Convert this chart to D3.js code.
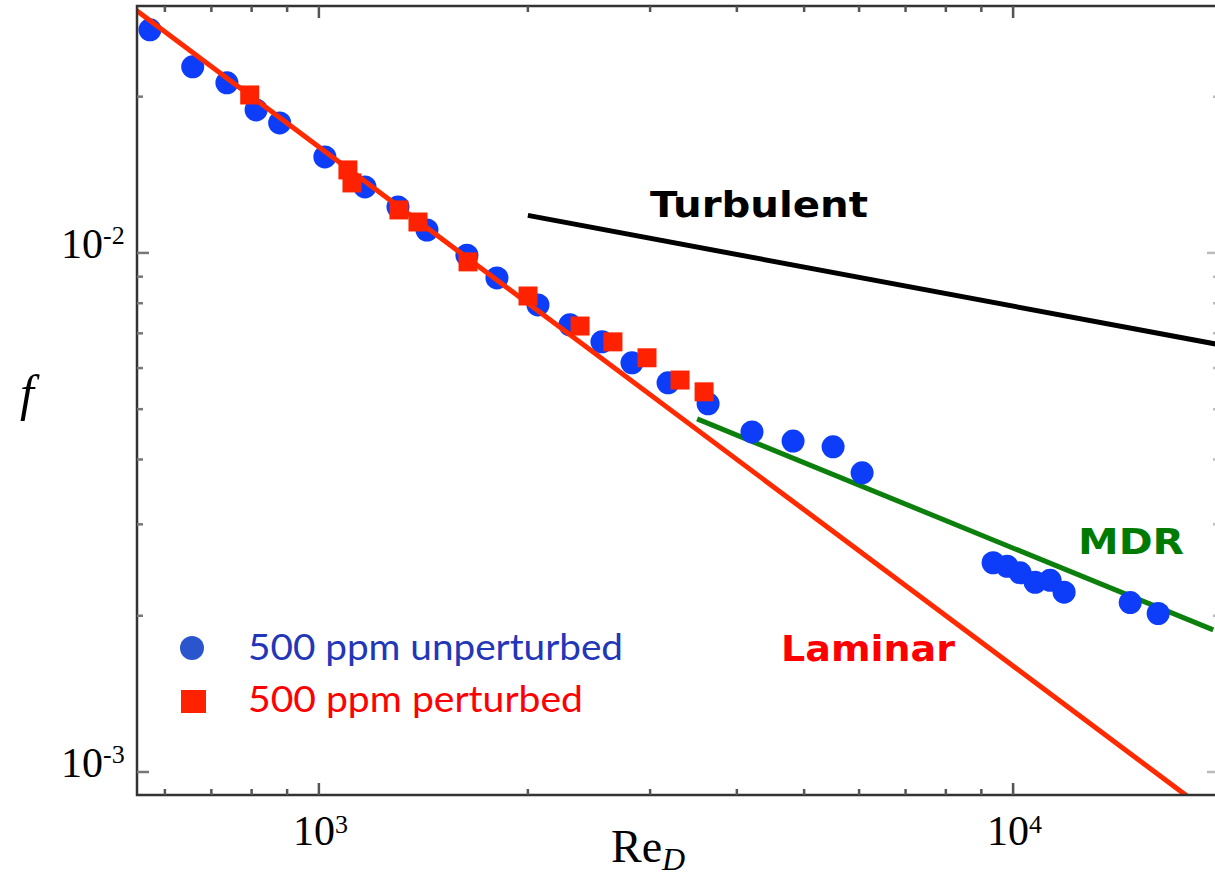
<!DOCTYPE html>
<html>
<head>
<meta charset="utf-8">
<script src="https://cdn.jsdelivr.net/npm/d3@7"></script>
<style>
  body { margin: 0; background: #fff; }
  svg { display: block; }
</style>
</head>
<body>
<div id="chart"></div>
<script>
// data: Re_D and friction factor f
var unperturbedRe = [571, 658, 737, 812, 878, 1020, 1165, 1300, 1431, 1634, 1805, 2068, 2299, 2557, 2825, 3184, 3636, 4206, 4820, 5504, 6060, 9358, 9804, 10234, 10757, 11306, 11843, 14747, 16180];
var unperturbedF  = [0.0269, 0.02283, 0.02127, 0.01886, 0.0178, 0.01531, 0.0134, 0.01226, 0.01107, 0.0099, 0.00895, 0.00794, 0.00727, 0.00674, 0.00614, 0.00562, 0.00512, 0.00452, 0.00434, 0.00423, 0.00377, 0.00253, 0.00249, 0.00242, 0.00232, 0.00234, 0.00222, 0.00212, 0.00202];

var perturbedRe = [795, 1101, 1116, 1304, 1389, 1640, 2001, 2378, 2652, 2969, 3313, 3588];
var perturbedF  = [0.02015, 0.01445, 0.01364, 0.0121, 0.01147, 0.00961, 0.00826, 0.00723, 0.00674, 0.00628, 0.00569, 0.0054];

// reference lines (end points)
var laminarRe = [540, 18000];
var laminarF = [0.02963, 0.000889];
var turbulentRe = [2000, 20000];
var turbulentF = [0.01181, 0.00664];
var mdrRe = [3506, 19420];
var mdrF = [0.004789, 0.001878];

var xMajor = [1e3, 1e4];
var xMinor = [600, 700, 800, 900, 2000, 3000, 4000, 5000, 6000, 7000, 8000, 9000];
var yMajor = [1e-3, 1e-2];
var yMinor = [2e-3, 3e-3, 4e-3, 5e-3, 6e-3, 7e-3, 8e-3, 9e-3, 2e-2];
var xTickLabels = [["10", "3"], ["10", "4"]];
var yTickLabels = [["10", "-3"], ["10", "-2"]];

var legendLabels = ["500 ppm unperturbed", "500 ppm perturbed"];

var W = 1215, H = 877;
var plot = {left: 137, top: 6, right: 1216, bottom: 795};

var svg = d3.select("#chart").append("svg")
  .attr("width", W)
  .attr("height", H);

var x = d3.scaleLog()
  .domain([547, 19600])
  .range([plot.left, plot.right]);

var y = d3.scaleLog()
  .domain([0.000903, 0.0299])
  .range([plot.bottom, plot.top]);

var defs = svg.append("defs");
defs.append("clipPath")
  .attr("id", "clip")
  .append("rect")
  .attr("x", plot.left)
  .attr("y", plot.top)
  .attr("width", plot.right - plot.left)
  .attr("height", plot.bottom - plot.top);

defs.append("filter")
  .attr("id", "soft")
  .append("feGaussianBlur")
  .attr("stdDeviation", 0.7);

var zip = function(a, b) { return a.map(function(d, i) { return [d, b[i]]; }); };

var line = d3.line()
  .x(function(d) { return x(d[0]); })
  .y(function(d) { return y(d[1]); });

var g = svg.append("g").attr("clip-path", "url(#clip)");

// MDR + turbulent lines
g.append("path")
  .attr("d", line(zip(mdrRe, mdrF)))
  .attr("fill", "none")
  .attr("stroke", "#0b7f0b")
  .attr("stroke-width", 5)
  .attr("filter", "url(#soft)");

g.append("path")
  .attr("d", line(zip(turbulentRe, turbulentF)))
  .attr("fill", "none")
  .attr("stroke", "#000")
  .attr("stroke-width", 5);

// unperturbed points
g.append("g")
  .selectAll("circle")
  .data(zip(unperturbedRe, unperturbedF))
  .enter()
  .append("circle")
    .attr("cx", function(d) { return x(d[0]); })
    .attr("cy", function(d) { return y(d[1]); })
    .attr("r", 11.5)
    .attr("fill", "#0a3cf8")
    .attr("filter", "url(#soft)");

// laminar line
g.append("path")
  .attr("d", line(zip(laminarRe, laminarF)))
  .attr("fill", "none")
  .attr("stroke", "#ff2a00")
  .attr("stroke-width", 5)
  .attr("filter", "url(#soft)");

// perturbed points
var sq = 19;
g.append("g")
  .selectAll("rect")
  .data(zip(perturbedRe, perturbedF))
  .enter()
  .append("rect")
    .attr("x", function(d) { return x(d[0]) - sq / 2; })
    .attr("y", function(d) { return y(d[1]) - sq / 2; })
    .attr("width", sq)
    .attr("height", sq)
    .attr("fill", "#ff2400")
    .attr("filter", "url(#soft)");

// frame with inward ticks (right edge sits just past the window)
var frameColor = "#333";
svg.append("path")
  .attr("d", "M" + (plot.right + 3) + "," + plot.top + "H" + plot.left + "V" + plot.bottom + "H" + (plot.right + 3))
  .attr("fill", "none")
  .attr("stroke", frameColor)
  .attr("stroke-width", 2.5);

function ticksX(vals, len, color) {
  vals.forEach(function(v) {
    svg.append("line")
      .attr("x1", x(v)).attr("x2", x(v))
      .attr("y1", plot.bottom).attr("y2", plot.bottom - len)
      .attr("stroke", color).attr("stroke-width", 2.5);
    svg.append("line")
      .attr("x1", x(v)).attr("x2", x(v))
      .attr("y1", plot.top).attr("y2", plot.top + len)
      .attr("stroke", color).attr("stroke-width", 2.5);
  });
}
function ticksY(vals, len, color) {
  vals.forEach(function(v) {
    svg.append("line")
      .attr("x1", plot.left).attr("x2", plot.left + len)
      .attr("y1", y(v)).attr("y2", y(v))
      .attr("stroke", color).attr("stroke-width", 2.5);
    svg.append("line")
      .attr("x1", plot.right + 3).attr("x2", plot.right + 3 - len)
      .attr("y1", y(v)).attr("y2", y(v))
      .attr("stroke", "#bbb").attr("stroke-width", 2.5);
  });
}
ticksX(xMinor, 6, "#555");
ticksX(xMajor, 12, "#555");
ticksY(yMinor, 6, "#777");
ticksY(yMajor, 12, "#777");

// tick labels with superscripts
var serif = "'Liberation Serif', 'DejaVu Serif', serif";
xMajor.forEach(function(v, i) {
  var t = svg.append("text")
    .attr("x", x(v) - 26)
    .attr("y", 845)
    .style("font-family", serif)
    .style("font-size", "42px")
    .attr("fill", "#000");
  t.append("tspan").text(xTickLabels[i][0]);
  t.append("tspan").attr("dy", -12).style("font-size", "26px").text(xTickLabels[i][1]);
});
yMajor.forEach(function(v, i) {
  var t = svg.append("text")
    .attr("x", 61)
    .attr("y", y(v) + 5)
    .style("font-family", serif)
    .style("font-size", "42px")
    .attr("fill", "#000");
  t.append("tspan").text(yTickLabels[i][0]);
  t.append("tspan").attr("dy", -14).style("font-size", "26px").text(yTickLabels[i][1]);
});

// axis titles
var xt = svg.append("text")
  .attr("x", 611)
  .attr("y", 862)
  .style("font-family", serif)
  .style("font-size", "46px")
  .attr("fill", "#000");
xt.append("tspan").text("Re");
xt.append("tspan").attr("dy", 8).style("font-style", "italic").style("font-size", "32px").text("D");

svg.append("text")
  .attr("x", 20)
  .attr("y", 410)
  .style("font-family", serif)
  .style("font-style", "italic")
  .style("font-size", "50px")
  .attr("fill", "#000")
  .text("f");

// curve labels
var bold = "'DejaVu Sans', Lato, sans-serif";
function label(txt, lx, ly, len, color) {
  svg.append("text")
    .attr("x", lx)
    .attr("y", ly)
    .attr("textLength", len)
    .attr("lengthAdjust", "spacingAndGlyphs")
    .style("font-family", bold)
    .style("font-weight", "bold")
    .style("font-size", "36px")
    .attr("fill", color)
    .text(txt);
}
label("Turbulent", 650, 217, 218, "#000");
label("MDR", 1078, 554, 106, "#007a00");
label("Laminar", 781, 661, 174, "#ff0000");

// legend
svg.append("circle")
  .attr("cx", 192)
  .attr("cy", 648)
  .attr("r", 12)
  .attr("fill", "#2a55cc");
svg.append("rect")
  .attr("x", 181)
  .attr("y", 690)
  .attr("width", 25)
  .attr("height", 23)
  .attr("fill", "#ff2200");

var sans = "Lato, 'Open Sans', sans-serif";
var legendLen = [375, 335];
var legendColor = ["#2236b8", "#ff0000"];
legendLabels.forEach(function(txt, i) {
  svg.append("text")
    .attr("x", 248)
    .attr("y", 660 + i * 52)
    .attr("textLength", legendLen[i])
    .attr("lengthAdjust", "spacingAndGlyphs")
    .style("font-family", sans)
    .style("font-size", "37px")
    .attr("fill", legendColor[i])
    .text(txt);
});
</script>
</body>
</html>
